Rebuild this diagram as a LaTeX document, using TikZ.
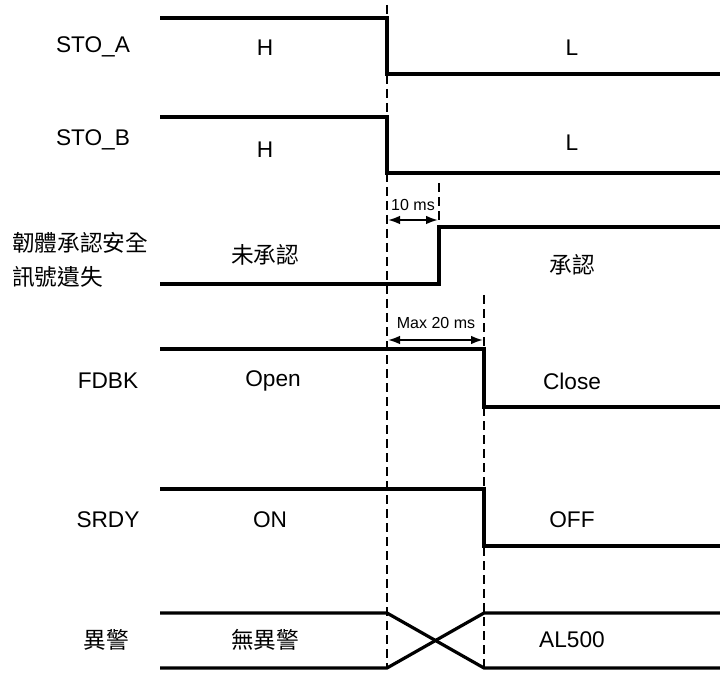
\documentclass[tikz,border=0pt]{standalone}
\usepackage{fontspec}
\setmainfont{Liberation Sans}
\newfontfamily\cjk{Noto Sans CJK TC}
\usetikzlibrary{arrows.meta}
\begin{document}
\begin{tikzpicture}[x=0.75pt,y=-0.75pt,
 sig/.style={line width=2.4pt, line join=miter},
 guide/.style={line width=1pt, dash pattern=on 6.5pt off 4pt},
 dim/.style={line width=1.5pt, {Latex[length=9pt,width=6.5pt]}-{Latex[length=9pt,width=6.5pt]}},
 lbl/.style={font=\fontsize{17}{20}\selectfont, inner sep=0},
 clbl/.style={font=\cjk\fontsize{17}{20}\selectfont, inner sep=0},
 small/.style={font=\fontsize{12}{14}\selectfont, inner sep=0}]
\useasboundingbox (0,0) rectangle (720,673);

% guide lines
\coordinate (g1t) at (387,5);   \coordinate (g1b) at (387,668);
\coordinate (g2t) at (439,183); \coordinate (g2b) at (439,227);
\coordinate (g3t) at (484,295); \coordinate (g3b) at (484,668);
\draw[guide] (g1t) -- (g1b);
\draw[guide] (g2t) -- (g2b);
\draw[guide] (g3t) -- (g3b);

% STO_A
\draw[sig] (160,18) -- (387,18) -- (387,74) -- (720,74);
\node[lbl] (stoa) at (93,47) {STO\_A};
\node[lbl] (stoaH) at (265,48) {H};
\node[lbl] (stoaL) at (572,48) {L};

% STO_B
\draw[sig] (160,117) -- (387,117) -- (387,173) -- (720,173);
\node[lbl] (stob) at (93,140) {STO\_B};
\node[lbl] (stobH) at (265,150) {H};
\node[lbl] (stobL) at (572,143) {L};

% Firmware ack
\draw[sig] (160,284) -- (439,284) -- (439,227) -- (720,227);
\node[clbl, anchor=west, align=left, font=\cjk\fontsize{17}{25.5}\selectfont] (fw) at (12,260) {韌體承認安全\\訊號遺失};
\node[clbl] (fwN) at (265,255) {未承認};
\node[clbl] (fwY) at (572,265) {承認};

% 10 ms
\coordinate (a1) at (388,220); \coordinate (a2) at (438,220);
\draw[dim] (a1) -- (a2);
\node[small] (t10) at (413,205) {10 ms};

% Max 20 ms
\coordinate (b1) at (388,340); \coordinate (b2) at (483,340);
\draw[dim] (b1) -- (b2);
\node[small] (t20) at (436,323) {Max 20 ms};

% FDBK
\draw[sig] (160,349) -- (484,349) -- (484,407) -- (720,407);
\node[lbl] (fdbk) at (108,381) {FDBK};
\node[lbl] (fdbkO) at (273,381) {Open};
\node[lbl] (fdbkC) at (572,381) {Close};

% SRDY
\draw[sig] (160,489) -- (484,489) -- (484,546) -- (720,546);
\node[lbl] (srdy) at (108,520) {SRDY};
\node[lbl] (srdyN) at (270,520) {ON};
\node[lbl] (srdyF) at (572,520) {OFF};

% Alarm
\draw[sig] (160,613) -- (387,613) -- (484,668) -- (720,668);
\draw[sig] (160,668) -- (387,668) -- (484,613) -- (720,613);
\node[clbl] (al) at (106,640) {異警};
\node[clbl] (alN) at (265,640) {無異警};
\node[lbl] (alY) at (572,640) {AL500};
\end{tikzpicture}
\end{document}
